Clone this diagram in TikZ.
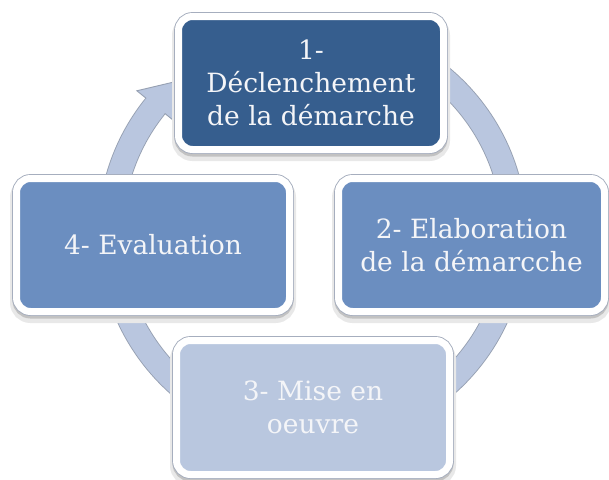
\documentclass[tikz,border=0pt]{standalone}
\usepackage{fontspec}
\setmainfont{DejaVu Serif}
\usetikzlibrary{calc}
\definecolor{darkbox}{RGB}{54,94,142}
\definecolor{midbox}{RGB}{107,142,192}
\definecolor{lightbox}{RGB}{185,199,223}
\definecolor{ringfill}{RGB}{185,198,223}
\definecolor{ringline}{RGB}{150,160,178}
\definecolor{boxtext}{RGB}{244,245,248}
\begin{document}
\begin{tikzpicture}[x=1pt,y=-1pt,
  cyclebox/.style={rounded corners=14pt, draw=white, line width=7pt, text=boxtext,
    align=center, inner sep=0pt, font=\fontsize{26.5}{33}\selectfont,
    preaction={draw=black!9, line width=13pt, transform canvas={yshift=-5pt}},
    preaction={draw=black!24, fill=black!24, line width=8pt, transform canvas={yshift=-3pt}},
    preaction={draw=ringline!85, line width=8.8pt}},
  ringborder/.style={draw=ringline, line width=25.6pt},
  ringbody/.style={draw=ringfill, line width=23.8pt},
]
\useasboundingbox (0,0) rectangle (609,479);
\fill[white] (0,0) rectangle (609,479);
\coordinate (C) at (312.5,233);
% ring
\draw[ringborder] (C) ++(232:202) arc[start angle=232, end angle=579.5, radius=202];
\draw[ringbody] (C) ++(232:202) arc[start angle=232, end angle=579.5, radius=202];
% arrow head
\coordinate (hA) at ($(C)+(219:214)$);
\coordinate (hB) at ($(C)+(219:226)$);
\coordinate (hT) at ($(C)+(229:202)$);
\coordinate (hD) at ($(C)+(219:178)$);
\coordinate (hE) at ($(C)+(219:190)$);
\fill[ringfill] (hA) -- (hB) -- (hT) -- (hD) -- (hE) -- cycle;
\draw[ringline, line width=0.9pt, line join=miter] (hA) -- (hB) -- (hT) -- (hD) -- (hE);
% boxes
\node[cyclebox, fill=darkbox, minimum width=265pt, minimum height=133pt] (b1) at (311,83)
  {1-\\Déclenchement\\de la démarche};
\node[cyclebox, fill=midbox, minimum width=266pt, minimum height=133pt] (b2) at (471.5,245)
  {2- Elaboration\\de la démarcche};
\node[cyclebox, fill=lightbox, minimum width=273pt, minimum height=134pt] (b3) at (313,407.5)
  {3- Mise en\\oeuvre};
\node[cyclebox, fill=midbox, minimum width=273pt, minimum height=133pt] (b4) at (153,245)
  {4- Evaluation};
\end{tikzpicture}
\end{document}
